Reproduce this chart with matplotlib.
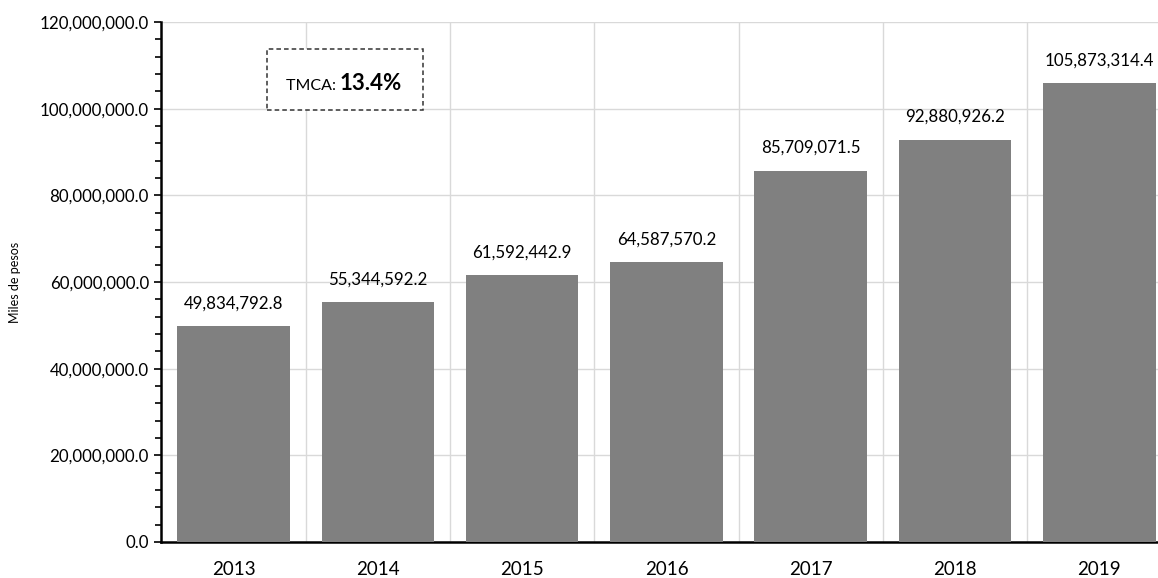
import matplotlib
matplotlib.use("Agg")
import matplotlib.pyplot as plt
from matplotlib.ticker import MultipleLocator, FuncFormatter
from matplotlib.patches import Rectangle

years = ["2013", "2014", "2015", "2016", "2017", "2018", "2019"]
values = [49834792.8, 55344592.2, 61592442.9, 64587570.2, 85709071.5, 92880926.2, 105873314.4]
ylabel = "Miles de pesos"
tmca_label = "TMCA: "
tmca_value = "13.4%"

plt.rcParams['font.family'] = ['Lato', 'DejaVu Sans']

W, H = 1158, 578
fig = plt.figure(figsize=(W / 100, H / 100), dpi=100)
left, right, top, bottom = 161.4, 1171.5, 22, 542
ax = fig.add_axes([left / W, 1 - bottom / H, (right - left) / W, (bottom - top) / H])

x = list(range(len(years)))
ax.bar(x, values, width=0.78, color="#808080", zorder=3)
ax.set_xlim(-0.5, len(years) - 0.5)
ax.set_ylim(0, 120000000)

ax.yaxis.set_major_locator(MultipleLocator(20000000))
ax.yaxis.set_minor_locator(MultipleLocator(4000000))
ax.yaxis.set_major_formatter(FuncFormatter(lambda v, p: f"{v:,.1f}"))
ax.set_xticks(x)
ax.set_xticklabels(years)
ax.set_xticks([i + 0.5 for i in x[:-1]], minor=True)

ax.tick_params(axis='y', which='major', direction='out', length=5, width=1.2, labelsize=12.2, pad=4)
ax.tick_params(axis='y', which='minor', direction='out', length=4, width=1.2)
ax.tick_params(axis='x', which='both', length=0, labelsize=13.5, pad=14)

ax.grid(axis='y', which='major', color='#d9d9d9', linewidth=1, zorder=0)
ax.grid(axis='x', which='minor', color='#d9d9d9', linewidth=1, zorder=0)

for s in ['top', 'right']:
    ax.spines[s].set_visible(False)
ax.spines['left'].set_linewidth(1.8)
ax.spines['bottom'].set_linewidth(1.8)

for xi, v in zip(x, values):
    ax.annotate(f"{v:,.1f}", (xi, v), xytext=(0, 10.5), textcoords='offset points',
                ha='center', va='bottom', fontsize=12.2)

fig.text(15 / W, 1 - 282 / H, ylabel, rotation=90, ha='center', va='center', fontsize=9)

# TMCA box
bx0, bx1, by0, by1 = 267, 423, 49, 110
rect = Rectangle((bx0 / W, 1 - by1 / H), (bx1 - bx0) / W, (by1 - by0) / H,
                 transform=fig.transFigure, fill=True, facecolor='white',
                 edgecolor='#333333', linestyle=(0, (3, 2)), linewidth=1.1, zorder=5)
fig.patches.append(rect)
fig.text(340 / W, 1 - 90 / H, tmca_label, ha='right', va='baseline', fontsize=11.5, zorder=6)
fig.text(340 / W, 1 - 90 / H, tmca_value, ha='left', va='baseline', fontsize=16, fontweight='bold', zorder=6)

fig.savefig("out.png", dpi=100)
